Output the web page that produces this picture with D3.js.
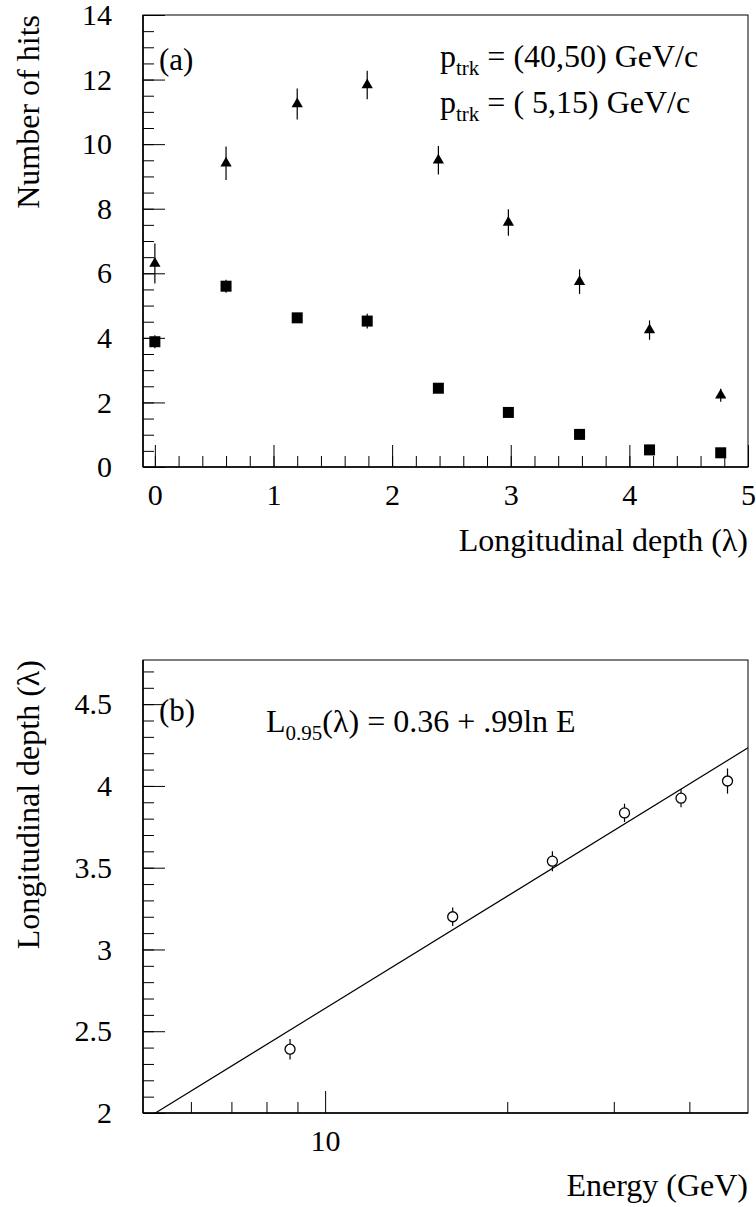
<!DOCTYPE html>
<html>
<head>
<meta charset="utf-8">
<script src="https://cdn.jsdelivr.net/npm/d3@7"></script>
<style>
  html, body { margin: 0; padding: 0; background: #fff; }
  svg { display: block; font-family: "Liberation Serif", "DejaVu Serif", serif; }
</style>
</head>
<body>
<svg id="chart" width="756" height="1207"></svg>
<script>
// ---------- Data: panel (a) ----------
const depthBins   = [0, 0.6, 1.2, 1.79, 2.39, 2.98, 3.58, 4.17, 4.77];
const hitsHigh    = [6.30, 9.41, 11.24, 11.83, 9.50, 7.57, 5.74, 4.24, 2.22];   // p_trk = (40,50)
const hitsHighErr = [0.62, 0.52, 0.48, 0.44, 0.44, 0.41, 0.38, 0.30, 0.20];
const hitsLow     = [3.88, 5.60, 4.62, 4.52, 2.44, 1.69, 1.01, 0.53, 0.44];     // p_trk = (5,15)
const hitsLowErr  = [0.20, 0.20, 0.12, 0.23, 0.10, 0.10, 0.08, 0.06, 0.06];
const xTicksA     = [0, 1, 2, 3, 4, 5];
const yTicksA     = [0, 2, 4, 6, 8, 10, 12, 14];

// ---------- Data: panel (b) ----------
const energy      = [8.75, 16.25, 23.75, 31.25, 38.75, 46.25];
const depth95     = [2.39, 3.20, 3.54, 3.835, 3.925, 4.03];
const depth95Err  = [0.063, 0.057, 0.061, 0.056, 0.056, 0.077];
const fitParams   = [0.36, 0.99];             // L = a + b ln E
const xTicksBMajor = [10];
const xTicksBMinor = [6, 7, 8, 9, 20, 30, 40];
const yTicksB     = [2, 2.5, 3, 3.5, 4, 4.5];

const svg = d3.select("#chart");
const FONT_TICK = 30, FONT_TITLE = 32;

function frame(g, x0, x1, y0, y1) {
  g.append("rect").attr("x", x0).attr("y", y0).attr("width", x1 - x0).attr("height", y1 - y0)
    .attr("fill", "none").attr("stroke", "#000").attr("stroke-width", 1);
  g.append("line").attr("x1", x0).attr("x2", x0).attr("y1", y0).attr("y2", y1)
    .attr("stroke", "#000").attr("stroke-width", 1.6);
  g.append("line").attr("x1", x0).attr("x2", x1).attr("y1", y1).attr("y2", y1)
    .attr("stroke", "#000").attr("stroke-width", 1.6);
}

function styleAxis(sel) {
  sel.select(".domain").remove();
  sel.selectAll("line").attr("stroke", "#000").attr("stroke-width", 1);
  sel.selectAll("text").attr("fill", "#000").attr("font-size", FONT_TICK)
     .attr("font-family", "Liberation Serif, serif");
}

// =================== Panel (a) ===================
const xA = d3.scaleLinear().domain([-0.1, 5]).range([143, 748]);
const yA = d3.scaleLinear().domain([0, 14]).range([467, 15]);
const gA = svg.append("g");

// minor ticks
const xMinorA = d3.range(0, 5.0001, 0.2).map(v => +v.toFixed(2));
const yMinorA = d3.range(0, 14.0001, 0.5);
gA.append("g").attr("transform", `translate(0,${yA(0)})`)
  .call(d3.axisBottom(xA).tickValues(xMinorA).tickSize(-11).tickFormat(""))
  .call(styleAxis);
gA.append("g").attr("transform", `translate(${xA.range()[0]},0)`)
  .call(d3.axisLeft(yA).tickValues(yMinorA).tickSize(-11).tickFormat(""))
  .call(styleAxis);
// major ticks + labels
const axA = gA.append("g").attr("transform", `translate(0,${yA(0)})`)
  .call(d3.axisBottom(xA).tickValues(xTicksA).tickSize(-22).tickFormat(d3.format("d")))
  .call(styleAxis);
axA.selectAll("text").attr("y", 38).attr("dy", 0);
const ayA = gA.append("g").attr("transform", `translate(${xA.range()[0]},0)`)
  .call(d3.axisLeft(yA).tickValues(yTicksA).tickSize(-22).tickPadding(31).tickFormat(d3.format("d")))
  .call(styleAxis);

frame(gA, 143, 748, 15, 467);

// error bars
function errBars(g, xs, ys, es, xS, yS) {
  g.append("g").selectAll("line").data(xs).join("line")
    .attr("x1", (d) => xS(d)).attr("x2", (d) => xS(d))
    .attr("y1", (d, i) => yS(ys[i] - es[i])).attr("y2", (d, i) => yS(ys[i] + es[i]))
    .attr("stroke", "#000").attr("stroke-width", 1.2);
}
errBars(gA, depthBins, hitsHigh, hitsHighErr, xA, yA);
errBars(gA, depthBins, hitsLow, hitsLowErr, xA, yA);

// triangles
const tri = d3.symbol().type(d3.symbolTriangle).size(55);
gA.append("g").selectAll("path").data(depthBins).join("path")
  .attr("d", tri)
  .attr("transform", (d, i) => `translate(${xA(d)},${yA(hitsHigh[i])})`)
  .attr("fill", "#000");
// squares
gA.append("g").selectAll("rect").data(depthBins).join("rect")
  .attr("x", d => xA(d) - 5.5).attr("y", (d, i) => yA(hitsLow[i]) - 5.5)
  .attr("width", 11).attr("height", 11).attr("fill", "#000");

// texts
gA.append("text").attr("x", 159).attr("y", 70).attr("font-size", 31).text("(a)");
const leg1 = gA.append("text").attr("x", 440).attr("y", 67).attr("font-size", FONT_TITLE);
leg1.append("tspan").text("p");
leg1.append("tspan").attr("font-size", 21).attr("dy", 8).text("trk");
leg1.append("tspan").attr("dy", -8).text(" = (40,50) GeV/c");
const leg2 = gA.append("text").attr("x", 440).attr("y", 113).attr("font-size", FONT_TITLE);
leg2.append("tspan").text("p");
leg2.append("tspan").attr("font-size", 21).attr("dy", 8).text("trk");
leg2.append("tspan").attr("dy", -8).text(" = ( 5,15) GeV/c");

gA.append("text").attr("x", 748).attr("y", 551).attr("text-anchor", "end")
  .attr("font-size", FONT_TITLE).text("Longitudinal depth (λ)");
gA.append("text").attr("transform", "translate(39,15) rotate(-90)").attr("text-anchor", "end")
  .attr("font-size", FONT_TITLE).text("Number of hits");

// =================== Panel (b) ===================
const xB = d3.scaleLog().domain([5, 50]).range([143, 748]);
const yB = d3.scaleLinear().domain([2, 4.77]).range([1113, 660]);
const gB = svg.append("g");

const yMinorB = d3.range(2, 4.7701, 0.1).map(v => +v.toFixed(2));
gB.append("g").attr("transform", `translate(0,${yB(2)})`)
  .call(d3.axisBottom(xB).tickValues(xTicksBMinor).tickSize(-11).tickFormat(""))
  .call(styleAxis);
gB.append("g").attr("transform", `translate(${xB.range()[0]},0)`)
  .call(d3.axisLeft(yB).tickValues(yMinorB).tickSize(-11).tickFormat(""))
  .call(styleAxis);
const axB = gB.append("g").attr("transform", `translate(0,${yB(2)})`)
  .call(d3.axisBottom(xB).tickValues(xTicksBMajor).tickSize(-22).tickFormat(d3.format("d")))
  .call(styleAxis);
axB.selectAll("text").attr("y", 38).attr("dy", 0);
gB.append("g").attr("transform", `translate(${xB.range()[0]},0)`)
  .call(d3.axisLeft(yB).tickValues(yTicksB).tickSize(-22).tickPadding(31).tickFormat(d => d3.format("")(d)))
  .call(styleAxis);

frame(gB, 143, 748, 660, 1113);

// fit line (clipped to frame)
svg.append("defs").append("clipPath").attr("id", "clipB")
  .append("rect").attr("x", 143).attr("y", 660).attr("width", 605).attr("height", 453);
const fitE = xB.domain();
gB.append("line").attr("clip-path", "url(#clipB)")
  .attr("x1", xB(fitE[0])).attr("y1", yB(fitParams[0] + fitParams[1] * Math.log(fitE[0])))
  .attr("x2", xB(fitE[1])).attr("y2", yB(fitParams[0] + fitParams[1] * Math.log(fitE[1])))
  .attr("stroke", "#000").attr("stroke-width", 1.2);

// circles with error bars outside marker
const R = 5;
const eb = gB.append("g");
energy.forEach((e, i) => {
  const cx = xB(e), cy = yB(depth95[i]);
  eb.append("line").attr("x1", cx).attr("x2", cx).attr("y1", yB(depth95[i] + depth95Err[i])).attr("y2", cy - R)
    .attr("stroke", "#000").attr("stroke-width", 1.2);
  eb.append("line").attr("x1", cx).attr("x2", cx).attr("y1", cy + R).attr("y2", yB(depth95[i] - depth95Err[i]))
    .attr("stroke", "#000").attr("stroke-width", 1.2);
});
gB.append("g").selectAll("circle").data(energy).join("circle")
  .attr("cx", d => xB(d)).attr("cy", (d, i) => yB(depth95[i])).attr("r", R)
  .attr("fill", "#fff").attr("stroke", "#000").attr("stroke-width", 1.3);

gB.append("text").attr("x", 159).attr("y", 721).attr("font-size", 31).text("(b)");
const fitT = gB.append("text").attr("x", 266).attr("y", 732).attr("font-size", FONT_TITLE);
fitT.append("tspan").text("L");
fitT.append("tspan").attr("font-size", 21).attr("dy", 8).text("0.95");
fitT.append("tspan").attr("dy", -8).text("(λ) = 0.36 + .99ln E");

gB.append("text").attr("x", 748).attr("y", 1196).attr("text-anchor", "end")
  .attr("font-size", FONT_TITLE).text("Energy (GeV)");
gB.append("text").attr("transform", "translate(39,660) rotate(-90)").attr("text-anchor", "end")
  .attr("font-size", FONT_TITLE).text("Longitudinal depth (λ)");
</script>
</body>
</html>
